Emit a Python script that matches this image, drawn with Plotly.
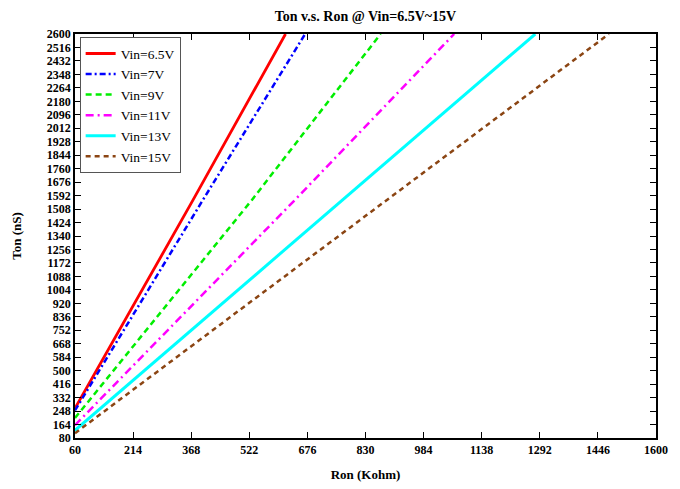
import plotly.graph_objects as go

# Data
series_names = ["Vin=6.5V", "Vin=7V", "Vin=9V", "Vin=11V", "Vin=13V", "Vin=15V"]
ron_65 = [60, 373, 618]
ton_65 = [265, 1565, 2600]
ron_7 = [60, 399, 670]
ton_7 = [252, 1565, 2600]
ron_9 = [60, 529, 870]
ton_9 = [205, 1565, 2600]
ron_11 = [60, 643, 1065]
ton_11 = [160, 1565, 2600]
ron_13 = [60, 770, 1280]
ton_13 = [128, 1565, 2600]
ron_15 = [60, 887, 1475]
ton_15 = [110, 1565, 2600]

x_ticks = [60, 214, 368, 522, 676, 830, 984, 1138, 1292, 1446, 1600]
y_ticks = [80, 164, 248, 332, 416, 500, 584, 668, 752, 836, 920, 1004, 1088,
           1172, 1256, 1340, 1424, 1508, 1592, 1676, 1760, 1844, 1928, 2012,
           2096, 2180, 2264, 2348, 2432, 2516, 2600]

styles = [
    dict(color="#ff0000", width=2.8, dash="solid"),
    dict(color="#0000ff", width=2.5, dash="6px,3px,2px,3px"),
    dict(color="#00ee00", width=2.5, dash="6px,4px"),
    dict(color="#ff00ff", width=2.5, dash="8px,4px,2px,4px"),
    dict(color="#00ffff", width=3, dash="solid"),
    dict(color="#8B4513", width=2.5, dash="5px,4px"),
]

xs = [ron_65, ron_7, ron_9, ron_11, ron_13, ron_15]
ys = [ton_65, ton_7, ton_9, ton_11, ton_13, ton_15]

fig = go.Figure()
for name, x, y, st in zip(series_names, xs, ys, styles):
    fig.add_trace(go.Scatter(x=x, y=y, mode="lines", name=name, line=st))

serif = "Liberation Serif"
W, H = 672, 481
L, R, T, B = 67, 24, 26, 51
fig.update_layout(
    width=W, height=H,
    margin=dict(l=L, r=R, t=T, b=B, autoexpand=False),
    paper_bgcolor="white", plot_bgcolor="white",
    title=dict(text="Ton v.s. Ron @ Vin=6.5V~15V",
               x=(L + (W - R)) / 2 / W, xanchor="center",
               y=1 - 8 / H, yanchor="middle",
               font=dict(family=serif, size=14, color="black", weight="bold")),
    legend=dict(x=0.008, y=0.992, xanchor="left", yanchor="top",
                bgcolor="white", bordercolor="#555555", borderwidth=1,
                font=dict(family=serif, size=13.5, color="black"),
                tracegroupgap=0, itemwidth=30),
    showlegend=True,
)
fig.update_xaxes(
    range=[60, 1600], tickmode="array", tickvals=x_ticks,
    ticks="inside", ticklen=6, tickcolor="black", mirror="ticks",
    showline=True, linecolor="black", linewidth=1.5, showgrid=False, zeroline=False,
    automargin=False,
    tickfont=dict(family=serif, size=12, color="black", weight="bold"),
    title=dict(text="Ron (Kohm)", standoff=14,
               font=dict(family=serif, size=13, color="black", weight="bold")),
)
fig.update_yaxes(
    range=[80, 2600], tickmode="array", tickvals=y_ticks,
    ticks="inside", ticklen=6, tickcolor="black", mirror="ticks",
    showline=True, linecolor="black", linewidth=1.5, showgrid=False, zeroline=False,
    automargin=False,
    tickfont=dict(family=serif, size=12, color="black", weight="bold"),
    title=dict(text="Ton (nS)", standoff=22,
               font=dict(family=serif, size=13, color="black", weight="bold")),
)

fig.write_html("out.html")
